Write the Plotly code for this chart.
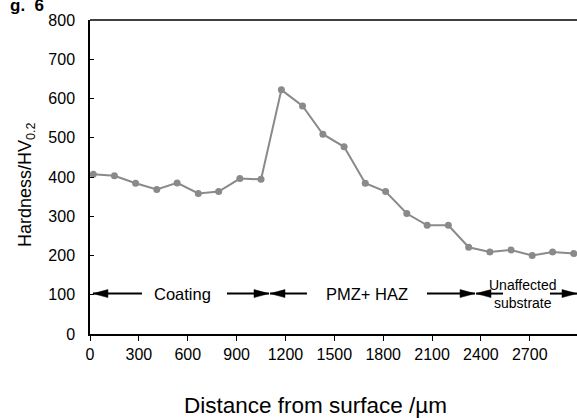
import plotly.graph_objects as go

distance = [20, 150, 280, 410, 535, 665, 790, 920, 1050, 1175, 1305, 1430,
            1560, 1690, 1815, 1945, 2070, 2200, 2325, 2455, 2585, 2715, 2840, 2970]
hardness = [407, 403, 384, 368, 385, 358, 363, 396, 394, 622, 581, 509,
            477, 384, 363, 307, 277, 277, 221, 209, 214, 200, 209, 205]

x_ticks = [0, 300, 600, 900, 1200, 1500, 1800, 2100, 2400, 2700]
y_ticks = [0, 100, 200, 300, 400, 500, 600, 700, 800]

# region labels and their double-arrow extents (µm)
regions = ["Coating", "PMZ+ HAZ", "Unaffected<br>substrate"]
region_text_x = [570, 1700, 2656]
region_left = [(18, 319), (1105, 1332), (2370, 2536)]    # (tip, tail)
region_right = [(841, 1099), (2069, 2364), (2824, 2990)]  # (tail, tip)
arrow_y = 103

FONT = "Liberation Sans, Arial, Helvetica, sans-serif"
LINE = "#8a8a8a"

fig = go.Figure()
fig.add_trace(go.Scatter(
    x=distance, y=hardness, mode="lines+markers",
    line=dict(color=LINE, width=2),
    marker=dict(color=LINE, size=7),
    showlegend=False, cliponaxis=False,
))

ann = []
shapes = [dict(type="line", xref="paper", yref="paper", x0=0, x1=1, y0=1, y1=1,
               line=dict(color="black", width=1.5))]
for i, t in enumerate(regions):
    ann.append(dict(x=region_text_x[i], y=arrow_y, xref="x", yref="y", text=t,
                    showarrow=False, xanchor="center", yanchor="middle",
                    font=dict(size=16.5 if i < 2 else 14, color="black", family=FONT)))
    l_tip, l_tail = region_left[i]
    r_tail, r_tip = region_right[i]
    shapes.append(dict(type="line", xref="x", yref="y", x0=l_tip, x1=l_tail,
                       y0=arrow_y, y1=arrow_y, line=dict(color="black", width=2)))
    shapes.append(dict(type="line", xref="x", yref="y", x0=r_tail, x1=r_tip,
                       y0=arrow_y, y1=arrow_y, line=dict(color="black", width=2)))
    shapes.append(dict(type="path", xref="x", yref="y", xsizemode="pixel",
                       ysizemode="pixel", xanchor=l_tip, yanchor=arrow_y,
                       path="M0,0 L15,4 L15,-4 Z", fillcolor="black",
                       line=dict(color="black", width=0.5)))
    shapes.append(dict(type="path", xref="x", yref="y", xsizemode="pixel",
                       ysizemode="pixel", xanchor=r_tip, yanchor=arrow_y,
                       path="M0,0 L-15,4 L-15,-4 Z", fillcolor="black",
                       line=dict(color="black", width=0.5)))

ann += [
    # cropped figure label fragment at top-left
    dict(x=-0.168, y=1.009, xref="paper", yref="paper", text="<b>g.  6</b>",
         showarrow=False, xanchor="left", yanchor="bottom",
         font=dict(size=17, color="black", family=FONT)),
    dict(x=-0.129, y=0.475, xref="paper", yref="paper",
         text="Hardness/HV<sub>0.2</sub>", textangle=-90, showarrow=False,
         xanchor="center", yanchor="middle",
         font=dict(size=18, color="black", family=FONT)),
    dict(x=0.464, y=-0.229, xref="paper", yref="paper",
         text="Distance from surface /µm", showarrow=False,
         xanchor="center", yanchor="middle",
         font=dict(size=22.5, color="black", family=FONT)),
]

fig.update_layout(
    width=577, height=418,
    margin=dict(l=90, r=0, t=20, b=84),
    paper_bgcolor="white", plot_bgcolor="white",
    font=dict(family=FONT, color="black", size=16),
    annotations=ann,
    shapes=shapes,
    xaxis=dict(
        range=[0, 2990], tickvals=x_ticks, ticktext=[str(v) for v in x_ticks],
        showgrid=False, zeroline=False, showline=True, linecolor="black",
        linewidth=1.5, ticks="outside", ticklen=5, tickcolor="black",
        tickfont=dict(size=16), automargin=False,
    ),
    yaxis=dict(
        range=[0, 800], tickvals=y_ticks, showgrid=False, zeroline=False,
        showline=True, linecolor="black", linewidth=1.5, ticks="inside",
        ticklen=4, tickcolor="black", tickfont=dict(size=16), ticklabelstandoff=10,
        automargin=False,
    ),
)

fig.write_html("out.html", config={"displayModeBar": False},
               post_script="document.body.style.margin='0';")
